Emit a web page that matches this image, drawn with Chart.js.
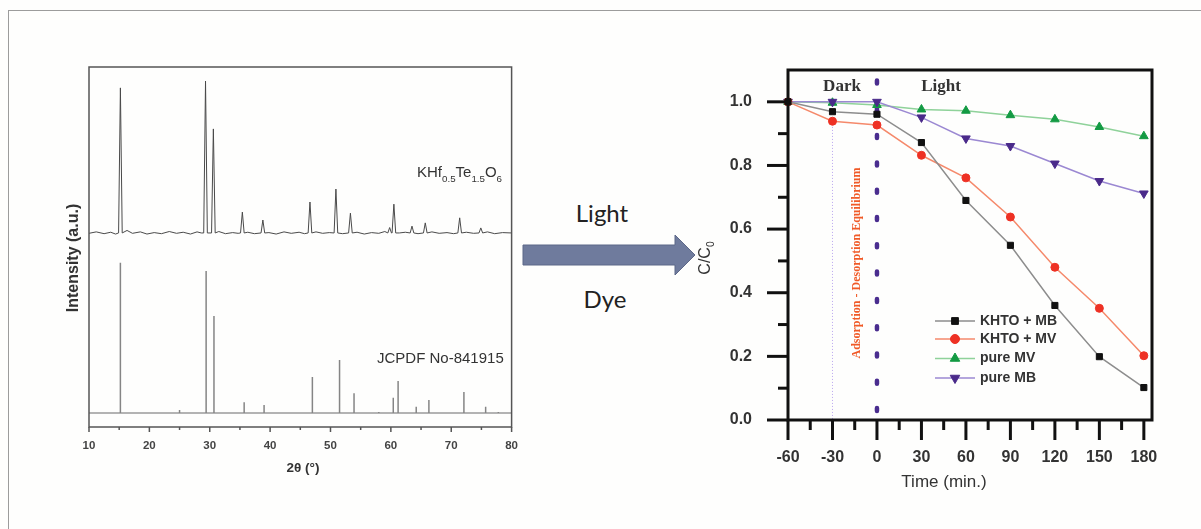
<!DOCTYPE html>
<html>
<head>
<meta charset="utf-8">
<script src="https://cdn.jsdelivr.net/npm/chart.js@4.4.1/dist/chart.umd.min.js"></script>
<style>
  html, body { margin: 0; padding: 0; background: #fefefd; width: 1201px; height: 529px; overflow: hidden; }
  #frame { position: absolute; left: 8px; top: 10px; width: 1300px; height: 600px; border: 1px solid #9c9c9c; }
  canvas { position: absolute; }
  #xrd { left: 10px; top: 55px; }
  #kin { left: 690px; top: 55px; }
  svg { position: absolute; left: 0; top: 0; }
  .mid { position: absolute; font-family: Lato, "Open Sans", sans-serif; font-size: 24px; color: #222; transform: translate(-50%, -50%); white-space: nowrap; }
</style>
</head>
<body>
<div id="frame"></div>
<svg width="1201" height="529">
  <polygon points="523,245 675,245 675,235 695,255 675,275 675,265 523,265" fill="#6f7b9d" stroke="#5d6888" stroke-width="1"/>
</svg>
<div class="mid" style="left:602px; top:212px">Light</div>
<div class="mid" style="left:605px; top:298px">Dye</div>
<canvas id="xrd" width="520" height="430"></canvas>
<canvas id="kin" width="500" height="450"></canvas>
<script>
// ---- XRD panel (2θ in degrees, intensity in arbitrary units 0..100) ----
const xrdTicks = [10, 20, 30, 40, 50, 60, 70, 80];
const xrdMinorTicks = [15, 25, 35, 45, 55, 65, 75];

const sampleBase = 53.9;
const samplePeakPos = [15.2, 29.3, 30.6, 35.4, 38.8, 46.6, 50.9, 53.3, 59.8, 60.5, 63.5, 65.7, 71.4, 74.9];
const samplePeakInt = [94.2, 96.1, 82.8, 59.7, 57.5, 62.5, 66.1, 59.4, 55.4, 61.9, 55.8, 56.7, 58.1, 55.3];
const sampleBackPos = [10, 11.2, 12.5, 13.6, 14.4, 16.3, 17.2, 18.5, 19.6, 20.8, 22.0, 23.3, 24.5, 25.6, 26.8, 27.9, 28.6,
  31.5, 32.6, 33.8, 34.7, 36.3, 37.4, 39.8, 41.0, 42.3, 43.5, 44.8, 45.7, 47.6, 48.7, 49.8, 52.0, 54.4, 55.6, 56.8,
  58.0, 59.0, 61.4, 62.4, 64.5, 66.8, 68.0, 69.3, 70.4, 72.5, 73.7, 76.0, 77.2, 78.5, 80];
const sampleBackInt = [53.8, 54.2, 53.7, 54.1, 53.6, 54.6, 53.8, 54.2, 53.6, 54.0, 53.7, 54.3, 53.8, 54.1, 53.6, 54.2, 53.9,
  54.3, 53.7, 54.0, 53.8, 54.1, 53.7, 54.0, 53.6, 54.2, 53.8, 54.1, 53.7, 54.2, 53.8, 54.0, 53.7, 54.1, 53.6, 54.0,
  53.8, 54.3, 53.9, 54.1, 53.7, 54.2, 53.8, 54.0, 53.7, 54.1, 53.8, 54.2, 53.7, 54.0, 53.9];

const refBase = 3.9;
const refPeakPos = [15.2, 25.0, 29.4, 30.7, 35.7, 39.0, 47.0, 51.5, 53.9, 58.0, 60.4, 61.2, 64.2, 66.3, 72.1, 75.7, 77.8];
const refPeakInt = [45.6, 4.7, 43.3, 30.8, 6.9, 6.1, 13.9, 18.6, 9.4, 4.2, 8.1, 12.8, 5.6, 7.5, 9.7, 5.6, 4.2];

// ---- Photocatalytic degradation panel ----
const timeMin = [-60, -30, 0, 30, 60, 90, 120, 150, 180];
const khtoMB = [1.0, 0.969, 0.961, 0.872, 0.690, 0.549, 0.360, 0.199, 0.102];
const khtoMV = [1.0, 0.939, 0.927, 0.832, 0.761, 0.638, 0.480, 0.351, 0.202];
const pureMV = [1.0, 0.997, 0.990, 0.976, 0.972, 0.958, 0.945, 0.921, 0.892];
const pureMB = [1.0, 1.0, 1.0, 0.951, 0.885, 0.861, 0.806, 0.751, 0.712];
const timeTicks = [-60, -30, 0, 30, 60, 90, 120, 150, 180];
const timeMinorTicks = [-45, -15, 15, 45, 75, 105, 135, 165];
const ratioTicks = [0, 0.2, 0.4, 0.6, 0.8, 1.0];
const ratioMinorTicks = [0.1, 0.3, 0.5, 0.7, 0.9];

const SANS = '"Liberation Sans", Arial, sans-serif';
const SERIF = '"Liberation Serif", "Times New Roman", serif';

function samplePattern() {
  const pts = sampleBackPos.map((x, i) => ({ x, y: sampleBackInt[i] }));
  samplePeakPos.forEach((p, i) => {
    pts.push({ x: p - 0.3, y: sampleBase }, { x: p, y: samplePeakInt[i] }, { x: p + 0.3, y: sampleBase });
  });
  return pts.sort((a, b) => a.x - b.x);
}

function refSticks() {
  const pts = [];
  refPeakPos.forEach((p, i) => {
    pts.push({ x: p, y: refBase }, { x: p, y: refPeakInt[i] }, { x: p, y: null });
  });
  return pts;
}

function seg(ctx, x1, y1, x2, y2) {
  ctx.beginPath();
  ctx.moveTo(x1, y1);
  ctx.lineTo(x2, y2);
  ctx.stroke();
}

// text with subscripts, parts = [[text, isSub], ...]
function drawFormula(ctx, parts, x, y, size, font) {
  parts.forEach(([txt, sub]) => {
    ctx.font = `${sub ? size * 0.65 : size}px ${font}`;
    ctx.fillText(txt, x, sub ? y + size * 0.3 : y);
    x += ctx.measureText(txt).width;
  });
}

function formulaWidth(ctx, parts, size, font) {
  let w = 0;
  parts.forEach(([txt, sub]) => {
    ctx.font = `${sub ? size * 0.65 : size}px ${font}`;
    w += ctx.measureText(txt).width;
  });
  return w;
}

const xrdDecor = {
  id: 'xrdDecor',
  afterDatasetsDraw(chart) {
    const { ctx, chartArea: a } = chart;
    const xs = chart.scales.x;
    ctx.save();
    ctx.strokeStyle = '#555';
    ctx.lineWidth = 1.5;
    ctx.strokeRect(a.left, a.top, a.right - a.left, a.bottom - a.top);
    xrdTicks.forEach(v => { const px = xs.getPixelForValue(v); seg(ctx, px, a.bottom, px, a.bottom + 5); });
    xrdMinorTicks.forEach(v => { const px = xs.getPixelForValue(v); seg(ctx, px, a.bottom, px, a.bottom + 3); });

    ctx.fillStyle = '#333';
    ctx.textBaseline = 'alphabetic';
    ctx.textAlign = 'left';
    drawFormula(ctx, [['KHf'], ['0.5', 1], ['Te'], ['1.5', 1], ['O'], ['6', 1]], 407, 122, 15, SANS);
    ctx.font = `15px ${SANS}`;
    ctx.fillText('JCPDF No-841915', 367, 308);

    ctx.textAlign = 'center';
    ctx.textBaseline = 'middle';
    ctx.font = `bold 13.5px ${SANS}`;
    ctx.fillText('2θ (°)', 293, 413);

    ctx.translate(64, 203);
    ctx.rotate(-Math.PI / 2);
    ctx.font = `bold 16px ${SANS}`;
    ctx.fillText('Intensity (a.u.)', 0, 0);
    ctx.restore();
  }
};

new Chart(document.getElementById('xrd'), {
  type: 'line',
  data: {
    datasets: [
      { label: 'KHf0.5Te1.5O6', data: samplePattern(), borderColor: '#4a4a4a', borderWidth: 1, pointRadius: 0, tension: 0 },
      { label: 'JCPDF No-841915', data: refSticks(), borderColor: '#858585', borderWidth: 1.5, pointRadius: 0 },
      { label: 'reference base', data: [{ x: 10, y: refBase }, { x: 80, y: refBase }], borderColor: '#9a9a9a', borderWidth: 1.5, pointRadius: 0 }
    ]
  },
  options: {
    responsive: false,
    animation: false,
    events: [],
    layout: { padding: { left: 79, top: 12, right: 16, bottom: 0 } },
    plugins: { legend: { display: false }, tooltip: { enabled: false } },
    scales: {
      x: {
        type: 'linear', min: 10, max: 80,
        afterBuildTicks: s => { s.ticks = xrdTicks.map(v => ({ value: v })); },
        afterFit: s => { s.height = 58; },
        grid: { display: false, drawTicks: false },
        border: { display: false },
        ticks: { padding: 12, color: '#444', maxRotation: 0, autoSkip: false, font: { family: SANS, size: 11.5, weight: 'bold' } }
      },
      y: { display: false, min: 0, max: 100 }
    }
  },
  plugins: [xrdDecor]
});

// ---- right panel ----
const kinSeries = [
  { label: 'KHTO + MB', values: khtoMB, line: '#8d8d8d', mark: '#111111', style: 'rect', radius: 4.3, rotation: 0, order: 0 },
  { label: 'KHTO + MV', values: khtoMV, line: '#f5896b', mark: '#ee3124', style: 'circle', radius: 4, rotation: 0, order: 1 },
  { label: 'pure MV', values: pureMV, line: '#8fd29a', mark: '#139a43', style: 'triangle', radius: 5, rotation: 0, order: 3 },
  { label: 'pure MB', values: pureMB, line: '#9b88d2', mark: '#4a2a8a', style: 'triangle', radius: 5, rotation: 180, order: 2 }
];

const kinDecor = {
  id: 'kinDecor',
  beforeDatasetsDraw(chart) {
    const { ctx, chartArea: a } = chart;
    const xs = chart.scales.x, ys = chart.scales.y;
    ctx.save();
    // thin guide at -30 min
    const p30 = xs.getPixelForValue(-30);
    ctx.strokeStyle = '#b9a4ee';
    ctx.lineWidth = 1;
    ctx.setLineDash([1, 2]);
    seg(ctx, p30, ys.getPixelForValue(0.94), p30, a.bottom);
    // dotted divider at 0 min
    const p0 = xs.getPixelForValue(0);
    ctx.strokeStyle = '#4a2d8f';
    ctx.lineWidth = 4.5;
    ctx.lineCap = 'round';
    ctx.setLineDash([3, 24.3]);
    seg(ctx, p0, a.top + 10.5, p0, a.bottom);
    ctx.restore();
  },
  afterDatasetsDraw(chart) {
    const { ctx, chartArea: a } = chart;
    const xs = chart.scales.x, ys = chart.scales.y;
    ctx.save();
    ctx.strokeStyle = '#111';
    ctx.lineWidth = 3;
    ctx.strokeRect(a.left, a.top, a.right - a.left, a.bottom - a.top);
    timeTicks.forEach(v => { const px = xs.getPixelForValue(v); seg(ctx, px, a.bottom, px, a.bottom + 20); });
    timeMinorTicks.forEach(v => { const px = xs.getPixelForValue(v); seg(ctx, px, a.bottom, px, a.bottom + 10); });
    ratioTicks.forEach(v => { const py = ys.getPixelForValue(v); seg(ctx, a.left - 21, py, a.left, py); });
    ratioMinorTicks.forEach(v => { const py = ys.getPixelForValue(v); seg(ctx, a.left - 10, py, a.left, py); });

    // Dark / Light labels
    ctx.fillStyle = '#333';
    ctx.textAlign = 'center';
    ctx.textBaseline = 'middle';
    ctx.font = `bold 17px ${SERIF}`;
    ctx.fillText('Dark', 152, 32);
    ctx.fillText('Light', 251, 32);

    // rotated equilibrium note
    ctx.save();
    ctx.translate(167, 208);
    ctx.rotate(-Math.PI / 2);
    ctx.fillStyle = '#f05a28';
    ctx.font = `bold 12px ${SERIF}`;
    ctx.fillText('Adsorption - Desorption Equilibrium', 0, 0);
    ctx.restore();

    // axis titles
    ctx.fillStyle = '#333';
    ctx.font = `17px ${SANS}`;
    ctx.fillText('Time (min.)', 254, 427);
    ctx.save();
    ctx.translate(16, 203);
    ctx.rotate(-Math.PI / 2);
    ctx.textAlign = 'left';
    const cc = [['C/C'], ['0', 1]];
    drawFormula(ctx, cc, -formulaWidth(ctx, cc, 16, SANS) / 2, 0, 16, SANS);
    ctx.restore();

    // legend
    const rows = [266, 284, 303.5, 323];
    kinSeries.forEach((s, i) => {
      const y = rows[i];
      ctx.strokeStyle = s.line;
      ctx.lineWidth = 1.5;
      seg(ctx, 245, y, 285, y);
      ctx.fillStyle = s.mark;
      ctx.strokeStyle = s.mark;
      ctx.lineWidth = 1;
      Chart.helpers.drawPoint(ctx, { pointStyle: s.style, radius: s.radius + 0.5, rotation: s.rotation, borderWidth: 1 }, 265, y);
      ctx.fillStyle = '#333';
      ctx.textAlign = 'left';
      ctx.font = `bold 14px ${SANS}`;
      ctx.fillText(s.label, 290, y);
    });
    ctx.restore();
  }
};

new Chart(document.getElementById('kin'), {
  type: 'line',
  data: {
    datasets: kinSeries.map(s => ({
      label: s.label,
      data: timeMin.map((t, i) => ({ x: t, y: s.values[i] })),
      borderColor: s.line,
      borderWidth: 1.5,
      backgroundColor: s.mark,
      pointBackgroundColor: s.mark,
      pointBorderColor: s.mark,
      pointBorderWidth: 1,
      pointStyle: s.style,
      pointRadius: s.radius,
      pointRotation: s.rotation,
      order: s.order,
      tension: 0,
      clip: false
    }))
  },
  options: {
    responsive: false,
    animation: false,
    events: [],
    layout: { padding: { left: 0, top: 15, right: 38, bottom: 0 } },
    plugins: { legend: { display: false }, tooltip: { enabled: false } },
    scales: {
      x: {
        type: 'linear', min: -60, max: 185.5,
        afterBuildTicks: s => { s.ticks = timeTicks.map(v => ({ value: v })); },
        afterFit: s => { s.height = 85; },
        grid: { display: false, drawTicks: false },
        border: { display: false },
        ticks: { padding: 28, color: '#333', maxRotation: 0, autoSkip: false, font: { family: SANS, size: 16, weight: 'bold' } }
      },
      y: {
        min: 0, max: 1.1,
        afterBuildTicks: s => { s.ticks = ratioTicks.map(v => ({ value: v })); },
        // fixed axis width; drop the label overhang so the plot top stays put
        afterFit: s => { s.width = 98; s.paddingTop = 0; s.paddingBottom = 0; },
        grid: { display: false, drawTicks: false },
        border: { display: false },
        ticks: { padding: 36, color: '#333', font: { family: SANS, size: 16, weight: 'bold' }, callback: v => v.toFixed(1) }
      }
    }
  },
  plugins: [kinDecor]
});
</script>
</body>
</html>
